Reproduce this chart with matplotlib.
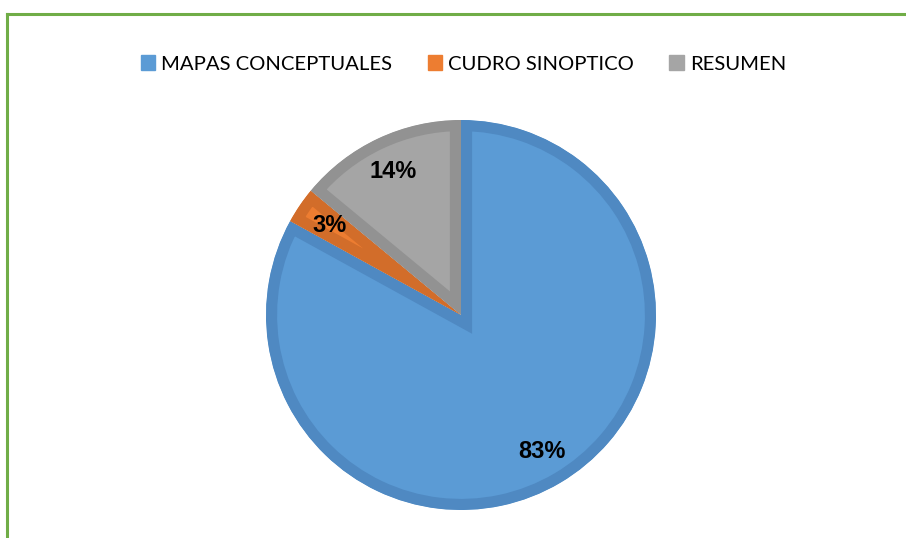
import matplotlib
matplotlib.use("Agg")
import matplotlib.pyplot as plt
from matplotlib.patches import Patch
from matplotlib.lines import Line2D

categories = ["MAPAS CONCEPTUALES", "CUDRO SINOPTICO", "RESUMEN"]
values = [83, 3, 14]
light_colors = ["#5B9BD5", "#ED7D31", "#A5A5A5"]
dark_colors = ["#4F89C2", "#D26D2A", "#929292"]

plt.rcParams['font.family'] = ['Lato', 'DejaVu Sans']

fig = plt.figure(figsize=(9.06, 5.38), dpi=100)
fig.patch.set_facecolor("white")

ax = fig.add_axes([266/906, 28/538, 390/906, 390/538])
wedges, texts, autotexts = ax.pie(
    values, colors=light_colors, startangle=90, counterclock=False,
    autopct='%1.0f%%', pctdistance=0.815, radius=1,
    wedgeprops=dict(linewidth=16, joinstyle='miter'),
    textprops=dict(fontsize=17, fontweight='bold', family='Liberation Sans', color='black'))
for w, dc in zip(wedges, dark_colors):
    w.set_edgecolor(dc)
    w.set_clip_on(True)
    w.set_clip_path(w)
ax.set_xlim(-1, 1)
ax.set_ylim(-1, 1)
ax.set_aspect('equal')
ax.axis('off')

handles = [Patch(facecolor=c, edgecolor=c) for c in light_colors]
fig.legend(handles, categories, loc='center', bbox_to_anchor=(0.5116, 0.881),
           ncol=3, frameon=False, fontsize=14.6, handlelength=0.7, handleheight=0.7,
           handletextpad=0.3, columnspacing=1.75, borderaxespad=0, borderpad=0)

green = "#70AD47"
fig.add_artist(Line2D([7/906, 1.0], [1-14/538, 1-14/538], transform=fig.transFigure,
                      color=green, linewidth=2.2, solid_capstyle='projecting'))
fig.add_artist(Line2D([7/906, 7/906], [1-14/538, 0.0], transform=fig.transFigure,
                      color=green, linewidth=2.2, solid_capstyle='projecting'))

fig.savefig("out.png", dpi=100, facecolor="white")
